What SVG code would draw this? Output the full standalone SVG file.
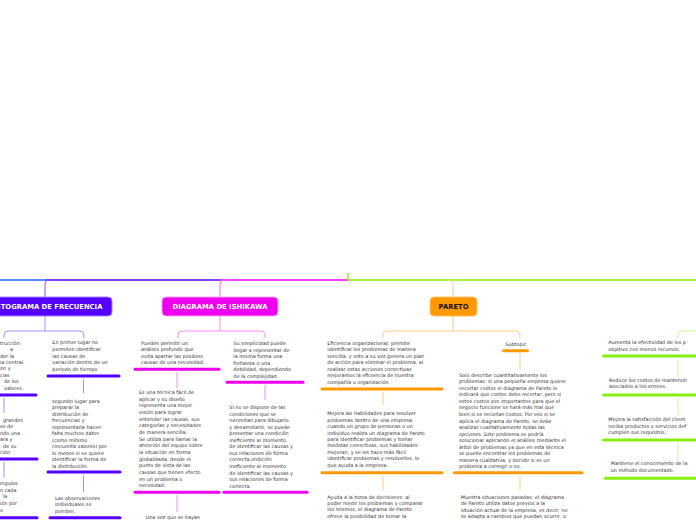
<svg xmlns="http://www.w3.org/2000/svg" width="696" height="520" viewBox="0 0 696 520">
<style>
.t{font-family:"DejaVu Sans","Verdana",sans-serif;font-size:4.9px;fill:#333}
.h{font-family:"DejaVu Sans","Verdana",sans-serif;font-size:6.8px;font-weight:bold;text-anchor:middle}
.bp{stroke:#5500ff;stroke-width:3;stroke-linecap:round;fill:none}
.bm{stroke:#ee00ee;stroke-width:3;stroke-linecap:round;fill:none}
.bo{stroke:#ff9900;stroke-width:3;stroke-linecap:round;fill:none}
.bg{stroke:#88ee11;stroke-width:3;stroke-linecap:round;fill:none}
.cp{stroke:#a78cff;stroke-width:1;fill:none}
.cm{stroke:#f48cf4;stroke-width:1;fill:none}
.co{stroke:#ffcc80;stroke-width:1;fill:none}
.cg{stroke:#c8f59a;stroke-width:1;fill:none}
</style>
<rect width="696" height="520" fill="#ffffff"/>
<g id="connectors">
<path d="M0 280H45" stroke="#1a66ff" stroke-width="1.3" fill="none"/>
<path d="M45 280H220" stroke="#5500ff" stroke-width="1.3" fill="none"/>
<path d="M220 280H348" stroke="#ee00ee" stroke-width="1.3" fill="none"/>
<path d="M348 280H696M348 280V273" stroke="#88ee00" stroke-width="1.3" fill="none"/>
<path d="M50 280Q45 280 45 285V297" stroke="#7a55ff" stroke-width="1" fill="none"/>
<path d="M225 280Q220 280 220 285V297" stroke="#f266f2" stroke-width="1" fill="none"/>
<path d="M448 280Q453 280 453 285V297" class="co"/>
<path d="M45 316V331M8 331H80M8 331Q4 331 4 335V338M80 331Q84 331 84 335V338" class="cp"/>
<path d="M4 398V413M4 462V478M83.5 379V393M83.5 475V492" class="cp"/>
<path d="M220 316V331M182 331H261M182 331Q178 331 178 335V338M261 331Q265 331 265 335V338" class="cm"/>
<path d="M177 372V388M177 495V512M265 385V400" class="cm"/>
<path d="M453 316V331M387 331H516M387 331Q383 331 383 335V338M516 331Q520 331 520 335V338" class="co"/>
<path d="M383 392V405M383 476V490M520 353V370M520 476V490" class="co"/>
<path d="M696 331H682Q678 331 678 335V338M678 359V378M678 398V415M678 443V460" class="cg"/>
</g>
<g id="histograma">
<rect x="-22" y="297" width="134" height="19" rx="4" fill="#5500ff" stroke="#9f80ff" stroke-width="1"/>
<text class="h" x="45" y="309.3" fill="#ffffff">HISTOGRAMA DE FRECUENCIA</text>
</g>
<g id="hist-left">
<text class="t" y="344.7"><tspan x="0">trucción</tspan><tspan x="10" dy="6.4">a</tspan><tspan x="0" dy="6.4">der la</tspan><tspan x="0" dy="6.4">ia central,</tspan><tspan x="0" dy="6.4">ón y</tspan><tspan x="0" dy="6.4">cias</tspan><tspan x="4" dy="6.4">de los</tspan><tspan x="4" dy="6.4">valores.</tspan></text>
<path d="M0 395H36" class="bp"/>
<text class="t" y="421.7"><tspan x="3">grandes</tspan><tspan x="0" dy="6.5">es de</tspan><tspan x="0" dy="6.5">ndo una</tspan><tspan x="0" dy="6.5">ara y</tspan><tspan x="3" dy="6.5">de su</tspan><tspan x="0" dy="6.5">ción</tspan></text>
<path d="M0 459H37" class="bp"/>
<text class="t" y="485"><tspan x="0">ingulos</tspan><tspan x="0" dy="6.7">n cada</tspan><tspan x="3" dy="6.7">la</tspan><tspan x="0" dy="6.7">ión por</tspan><tspan x="0" dy="6.7">o</tspan></text>
<path d="M0 517.7H37" class="bp"/>
</g>
<g id="hist-right">
<text class="t" y="344.4"><tspan x="52.3">En primer lugar no</tspan><tspan x="52.3" dy="6.6">permiten identificar</tspan><tspan x="52.3" dy="6.6">las causas de</tspan><tspan x="52.3" dy="6.6">variación dentro de un</tspan><tspan x="52.3" dy="6.6">periodo de tiempo</tspan></text>
<path d="M48 376H119" class="bp"/>
<text class="t" y="402.7"><tspan x="52">segundo lugar para</tspan><tspan x="52" dy="6.5">preparar la</tspan><tspan x="52" dy="6.5">distribución de</tspan><tspan x="52" dy="6.5">frecuencias y</tspan><tspan x="52" dy="6.5">representarla hacen</tspan><tspan x="52" dy="6.5">falta muchos datos</tspan><tspan x="52" dy="6.5">(como mínimo</tspan><tspan x="52" dy="6.5">cincuenta valores) por</tspan><tspan x="52" dy="6.5">lo menos si se quiere</tspan><tspan x="52" dy="6.5">identificar la forma de</tspan><tspan x="52" dy="6.5">la distribución.</tspan></text>
<path d="M48 472H120" class="bp"/>
<text class="t" y="499.7"><tspan x="55">Las observaciones</tspan><tspan x="55" dy="6.5">individuales se</tspan><tspan x="55" dy="6.5">pierden.</tspan></text>
<path d="M50 517.7H120" class="bp"/>
</g>
<g id="ishikawa">
<rect x="162" y="297" width="116" height="19" rx="4" fill="#ee00ee" stroke="#f9a0f9" stroke-width="1"/>
<text class="h" x="220" y="309.3" fill="#ffffff">DIAGRAMA DE ISHIKAWA</text>
</g>
<g id="ishi-left">
<text class="t" y="345"><tspan x="141">Pueden permitir un</tspan><tspan x="141" dy="6.35">análisis profundo que</tspan><tspan x="141" dy="6.35">evita apartar las posibles</tspan><tspan x="141" dy="6.35">causas de una necesidad.</tspan></text>
<path d="M135 369.3H219" class="bm"/>
<text class="t" y="394"><tspan x="139">Es una técnica fácil de</tspan><tspan x="139" dy="6.67">aplicar y su diseño</tspan><tspan x="139" dy="6.67">representa una mejor</tspan><tspan x="139" dy="6.67">visión para lograr</tspan><tspan x="139" dy="6.67">entender las causas, sus</tspan><tspan x="139" dy="6.67">categorías y necesidades</tspan><tspan x="139" dy="6.67">de manera sencilla.</tspan><tspan x="139" dy="6.67">Se utiliza para llamar la</tspan><tspan x="139" dy="6.67">atención del equipo sobre</tspan><tspan x="139" dy="6.67">la situación en forma</tspan><tspan x="139" dy="6.67">globalizada, desde el</tspan><tspan x="139" dy="6.67">punto de vista de las</tspan><tspan x="139" dy="6.67">causas que tienen efecto</tspan><tspan x="139" dy="6.67">en un problema o</tspan><tspan x="139" dy="6.67">necesidad.</tspan></text>
<path d="M135 492.3H219" class="bm"/>
<text class="t" x="145.7" y="519">Una vez que se hayan</text>
</g>
<g id="ishi-right">
<text class="t" y="345"><tspan x="233.3">Su simplicidad puede</tspan><tspan x="233.3" dy="6.5">llegar a representar de</tspan><tspan x="233.3" dy="6.5">la misma forma una</tspan><tspan x="233.3" dy="6.5">fortaleza o una</tspan><tspan x="233.3" dy="6.5">debilidad, dependiendo</tspan><tspan x="233.3" dy="6.5">de la complejidad.</tspan></text>
<path d="M227 382.3H303" class="bm"/>
<text class="t" y="409"><tspan x="229.3">Si no se dispone de las</tspan><tspan x="229.3" dy="6.56">condiciones que se</tspan><tspan x="229.3" dy="6.56">necesitan para dibujarlo</tspan><tspan x="229.3" dy="6.56">y desarrollarlo, se puede</tspan><tspan x="229.3" dy="6.56">presentar una condición</tspan><tspan x="229.3" dy="6.56">ineficiente al momento</tspan><tspan x="229.3" dy="6.56">de identificar las causas y</tspan><tspan x="229.3" dy="6.56">sus relaciones de forma</tspan><tspan x="229.3" dy="6.56">correcta.ondición</tspan><tspan x="229.3" dy="6.56">ineficiente al momento</tspan><tspan x="229.3" dy="6.56">de identificar las causas y</tspan><tspan x="229.3" dy="6.56">sus relaciones de forma</tspan><tspan x="229.3" dy="6.56">correcta.</tspan></text>
<path d="M224 492.3H307" class="bm"/>
</g>
<g id="pareto">
<rect x="430" y="297" width="47" height="19" rx="4" fill="#ff9900" stroke="#ffc266" stroke-width="1"/>
<text class="h" x="453.5" y="309.3" fill="#111111">PARETO</text>
</g>
<g id="pareto-left">
<text class="t" y="345"><tspan x="327.3">Eficiencia organizacional: permite</tspan><tspan x="327.3" dy="6.45">identificar los problemas de manera</tspan><tspan x="327.3" dy="6.45">sencilla, y esto a su vez genera un plan</tspan><tspan x="327.3" dy="6.45">de acción para eliminar el problema, al</tspan><tspan x="327.3" dy="6.45">realizar estas acciones correctivas</tspan><tspan x="327.3" dy="6.45">mejoramos la eficiencia de nuestra</tspan><tspan x="327.3" dy="6.45">compañía u organización</tspan></text>
<path d="M322 389H442" class="bo"/>
<text class="t" y="415.4"><tspan x="327.3">Mejora las habilidades para resolver</tspan><tspan x="327.3" dy="6.4">problemas dentro de una empresa:</tspan><tspan x="327.3" dy="6.4">cuando un grupo de personas o un</tspan><tspan x="327.3" dy="6.4">individuo realiza un diagrama de Pareto</tspan><tspan x="327.3" dy="6.4">para identificar problemas y tomar</tspan><tspan x="327.3" dy="6.4">medidas correctivas, sus habilidades</tspan><tspan x="327.3" dy="6.4">mejoran, y se les hace más fácil</tspan><tspan x="327.3" dy="6.4">identificar problemas y resolverlos, lo</tspan><tspan x="327.3" dy="6.4">que ayuda a la empresa.</tspan></text>
<path d="M322 472.7H442" class="bo"/>
<text class="t" y="498.7"><tspan x="327.3">Ayuda a la toma de decisiones: al</tspan><tspan x="327.3" dy="6.33">poder medir los problemas y comparar</tspan><tspan x="327.3" dy="6.33">los mismos, el diagrama de Pareto</tspan><tspan x="327.3" dy="6.33">ofrece la posibilidad de tomar la</tspan></text>
</g>
<g id="pareto-right">
<text class="t" x="516" y="345.7" text-anchor="middle">Subtopic</text>
<path d="M503.5 350.7H527.5" class="bo"/>
<text class="t" y="376.7"><tspan x="459">Solo describe cuantitativamente los</tspan><tspan x="459" dy="6.55">problemas: si una pequeña empresa quiere</tspan><tspan x="459" dy="6.55">recortar costos el diagrama de Pareto le</tspan><tspan x="459" dy="6.55">indicará que costos debe recortar; pero si</tspan><tspan x="459" dy="6.55">estos costos son importantes para que el</tspan><tspan x="459" dy="6.55">negocio funcione se hará más mal que</tspan><tspan x="459" dy="6.55">bien,si se recortan costos. Por eso si se</tspan><tspan x="459" dy="6.55">aplica el diagrama de Pareto, se debe</tspan><tspan x="459" dy="6.55">analizar cualitativamente todas las</tspan><tspan x="459" dy="6.55">opciones. Este problema se podría</tspan><tspan x="459" dy="6.55">solucionar aplicando el análisis mediante el</tspan><tspan x="459" dy="6.55">árbol de problemas ya que en esta técnica</tspan><tspan x="459" dy="6.55">se puede encontrar los problemas de</tspan><tspan x="459" dy="6.55">manera cualitativa, y decidir si es un</tspan><tspan x="459" dy="6.55">problema a corregir o no.</tspan></text>
<path d="M454.5 472.7H582" class="bo"/>
<text class="t" y="499"><tspan x="460.7">Muestra situaciones pasadas: el diagrama</tspan><tspan x="460.7" dy="6.33">de Pareto utiliza datos previos a la</tspan><tspan x="460.7" dy="6.33">situación actual de la empresa, es decir, no</tspan><tspan x="460.7" dy="6.33">se adapta a cambios que puedan ocurrir, o</tspan></text>
</g>
<g id="green-branch">
<text class="t" y="344"><tspan x="608.3">Aumenta la efectividad de los p</tspan><tspan x="608.3" dy="7">objetivo con menos recursos.</tspan></text>
<path d="M603.5 356H700" class="bg"/>
<text class="t" y="381.7"><tspan x="609">Reduce los costos de mantenim</tspan><tspan x="609" dy="6.7">asociados a los errores.</tspan></text>
<path d="M603.5 395H700" class="bg"/>
<text class="t" y="421"><tspan x="608.3">Mejora la satisfacción del client</tspan><tspan x="608.3" dy="6.7">reciba productos o servicios def</tspan><tspan x="608.3" dy="6.7">cumplen sus requisitos.</tspan></text>
<path d="M603.5 440H700" class="bg"/>
<text class="t" y="465"><tspan x="610.7">Mantiene el conocimiento de la</tspan><tspan x="610.7" dy="6.7">un método documentado.</tspan></text>
<path d="M605.5 478.3H700" class="bg"/>
</g>
</svg>
